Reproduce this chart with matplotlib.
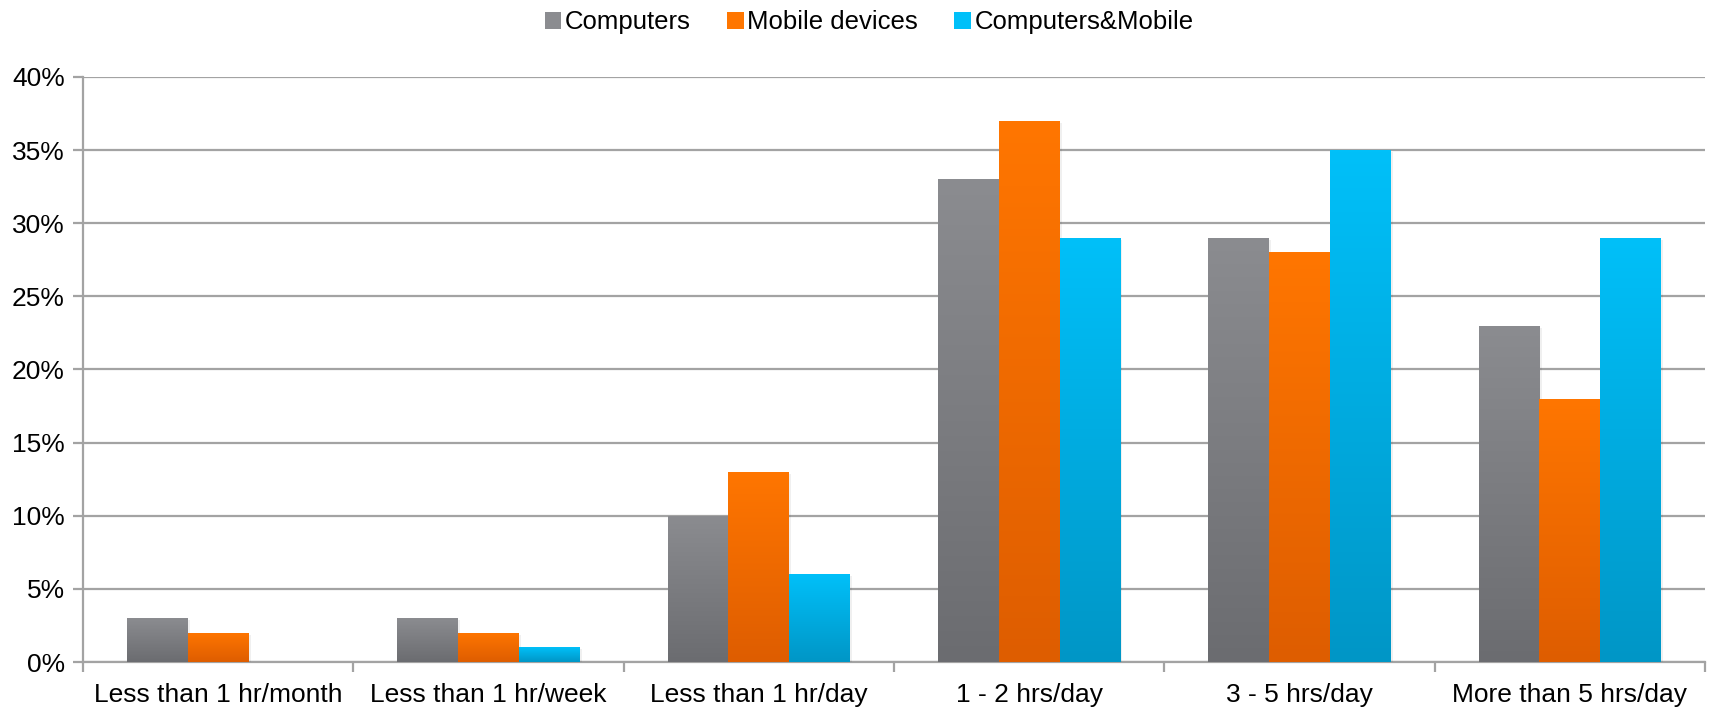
import matplotlib
matplotlib.use("Agg")
import matplotlib.pyplot as plt
import numpy as np
from matplotlib.colors import LinearSegmentedColormap
from matplotlib.patches import Patch
import matplotlib.patheffects as pe

categories = ["Less than 1 hr/month", "Less than 1 hr/week", "Less than 1 hr/day",
              "1 - 2 hrs/day", "3 - 5 hrs/day", "More than 5 hrs/day"]
series_names = ["Computers", "Mobile devices", "Computers&Mobile"]
computers = [3, 3, 10, 33, 29, 23]
mobile = [2, 2, 13, 37, 28, 18]
both = [0, 1, 6, 29, 35, 29]
yticks = [0, 5, 10, 15, 20, 25, 30, 35, 40]

grads = [("#8b8c90", "#6b6c70"), ("#ff7600", "#de5d00"), ("#00c0f9", "#0096c6")]

plt.rcParams['font.family'] = ['Liberation Sans', 'DejaVu Sans']
fig = plt.figure(figsize=(17.11, 7.12), dpi=100)
ax = fig.add_axes([0.0485, 0.0702, 0.948, 0.8217])

n = len(categories)
x = np.arange(n)
w = 0.225
data = [computers, mobile, both]
grid_c = "#a3a3a3"

for i, (vals, (ctop, cbot)) in enumerate(zip(data, grads)):
    cmap = LinearSegmentedColormap.from_list("g%d" % i, [cbot, ctop])
    bars = ax.bar(x + (i - 1) * w, vals, width=w, color=ctop, linewidth=0, zorder=3,
                  path_effects=[pe.withSimplePatchShadow(offset=(1.5, -1.5), shadow_rgbFace="#000000", alpha=0.06)])
    for b in bars:
        h = b.get_height()
        if h <= 0:
            continue
        x0 = b.get_x()
        grad = np.linspace(0, 1, 256).reshape(-1, 1)
        im = ax.imshow(grad, cmap=cmap, origin="lower", aspect="auto",
                       extent=[x0, x0 + b.get_width(), 0, h], zorder=4)
        im.set_clip_path(b)

ax.set_xlim(-0.5, n - 0.5)
ax.set_ylim(0, 40)
ax.set_yticks(yticks)
ax.set_yticklabels(["%d%%" % t for t in yticks])
ax.yaxis.grid(True, color=grid_c, linewidth=1.6, zorder=1)
ax.set_axisbelow(True)

ax.set_xticks(x)
ax.set_xticklabels(categories)
ax.set_xticks(np.arange(-0.5, n, 1.0), minor=True)
ax.tick_params(axis="x", which="major", length=0, pad=15, labelsize=19)
ax.tick_params(axis="x", which="minor", length=7, width=1.6, color=grid_c)
ax.tick_params(axis="y", length=7, width=1.6, color=grid_c, labelsize=19, pad=6)

for s in ["top", "right"]:
    ax.spines[s].set_visible(False)
for s in ["left", "bottom"]:
    ax.spines[s].set_color(grid_c)
    ax.spines[s].set_linewidth(1.6)

handles = [Patch(facecolor=g[0], edgecolor="none") for g in grads]
fig.legend(handles, series_names, loc="upper center", bbox_to_anchor=(0.508, 1.018),
           ncol=3, frameon=False, fontsize=18.5, handlelength=0.65, handleheight=0.65,
           handletextpad=0.15, columnspacing=1.4)

fig.savefig("out.png", dpi=100)
